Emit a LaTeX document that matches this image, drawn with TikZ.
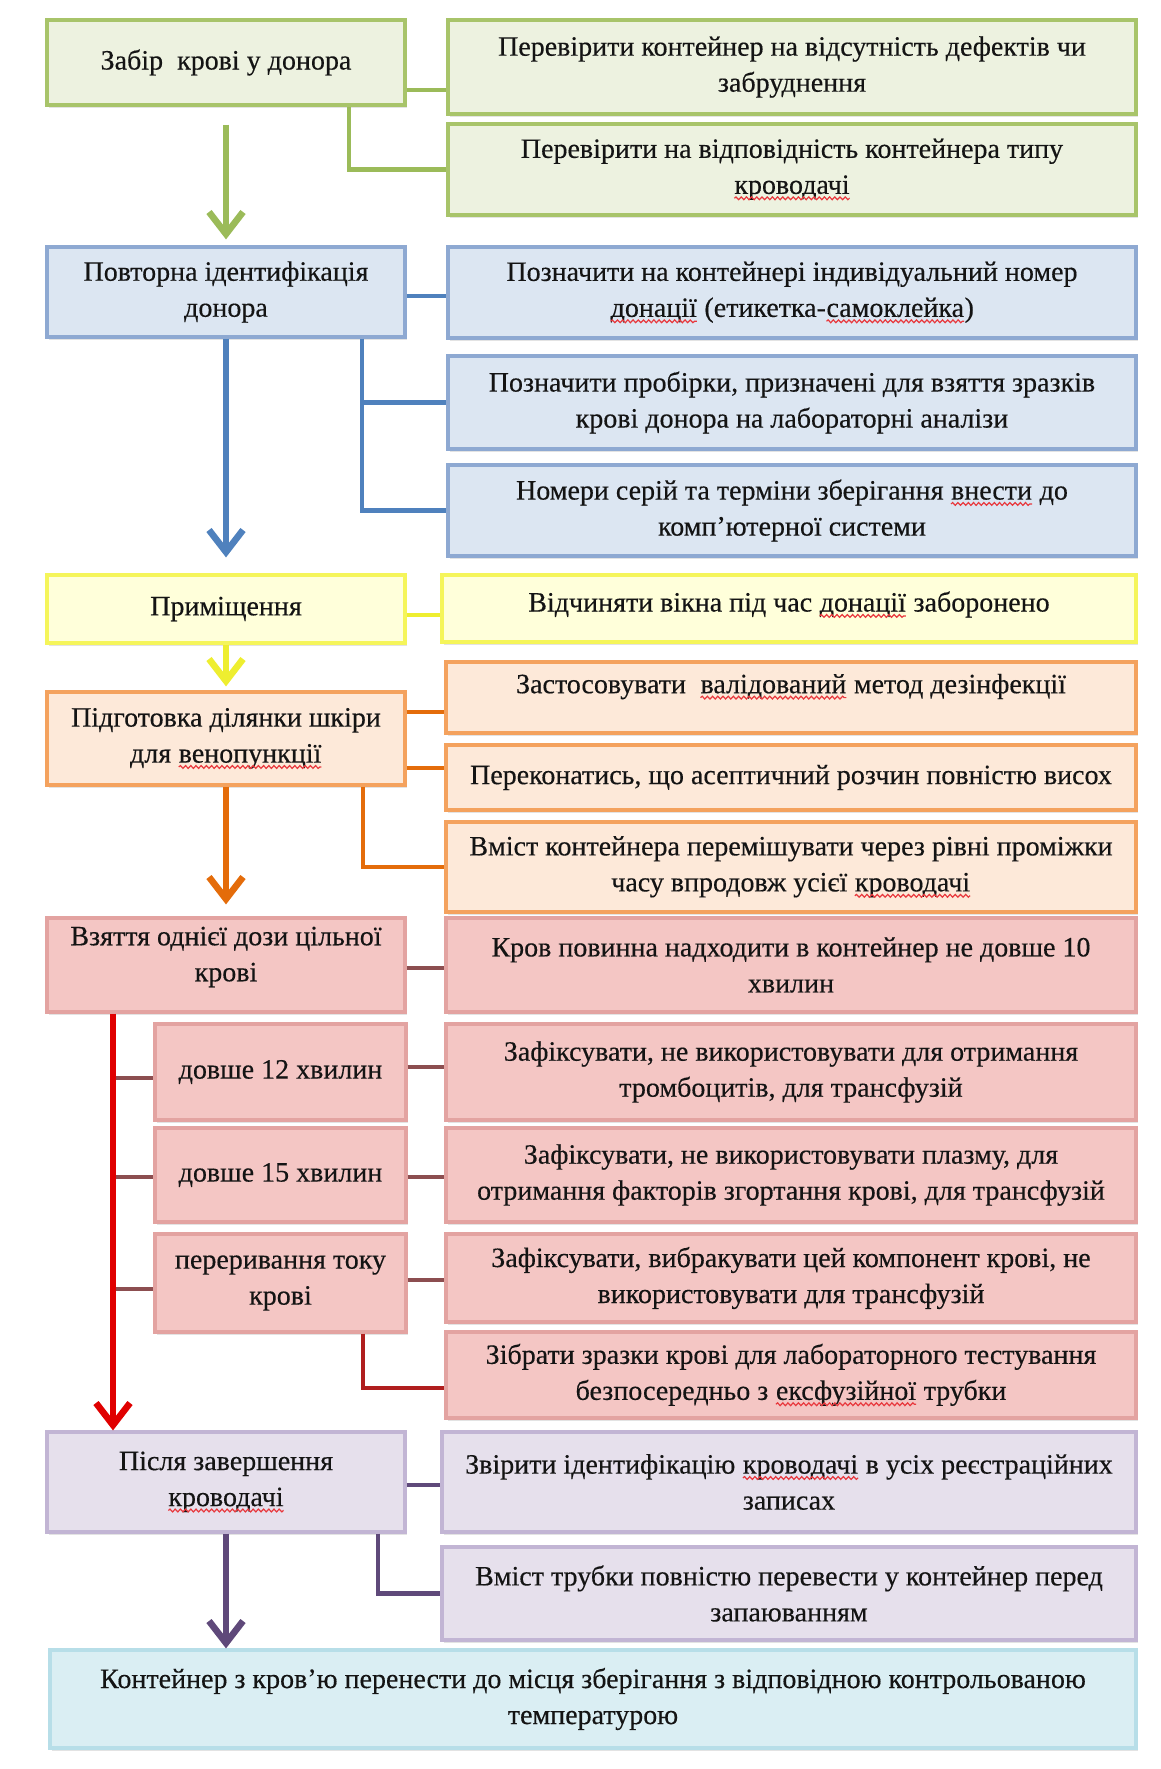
\documentclass[tikz,border=0pt]{standalone}
\usepackage{fontspec}
\setmainfont{Liberation Serif}[FakeBold=0.35]
\usetikzlibrary{arrows.meta,shadows,calc,decorations.pathmorphing}
\definecolor{gfill}{HTML}{EDF2E0}\definecolor{gdraw}{HTML}{A8C46A}\definecolor{gline}{HTML}{9BBB59}
\definecolor{bfill}{HTML}{DCE6F2}\definecolor{bdraw}{HTML}{8EA9D2}\definecolor{bline}{HTML}{4F81BD}
\definecolor{yfill}{HTML}{FFFFDA}\definecolor{ydraw}{HTML}{F5F55A}\definecolor{yline}{HTML}{EEEE30}
\definecolor{ofill}{HTML}{FDE9D9}\definecolor{odraw}{HTML}{F4A25E}\definecolor{oline}{HTML}{E46C0A}
\definecolor{rfill}{HTML}{F4C6C4}\definecolor{rdraw}{HTML}{E3A3A1}\definecolor{rline}{HTML}{8C4E50}\definecolor{rarrow}{HTML}{E00000}\definecolor{rdark}{HTML}{B01E1E}
\definecolor{pfill}{HTML}{E6E0EC}\definecolor{pdraw}{HTML}{C2B5D4}\definecolor{pline}{HTML}{5F497A}
\definecolor{cfill}{HTML}{DAEEF3}\definecolor{cdraw}{HTML}{B7DEE8}
\definecolor{spell}{HTML}{E8383D}
\newcommand\rw[1]{\tikz[baseline=(wd.base)]{\node[inner sep=0pt, outer sep=0pt, minimum width=0pt, minimum height=0pt, draw=none, fill=none] (wd) {#1};
  \draw[spell, line width=0.6pt, decorate, decoration={snake, amplitude=0.7pt, segment length=2.6pt}] ([yshift=-2.2pt]wd.base west) -- ([yshift=-2.2pt]wd.base east);}}
\tikzset{
  base/.style={draw, line width=1.6pt, align=center, inner sep=2pt,
    font=\fontsize{14}{18}\selectfont, text=black!92,
    drop shadow={opacity=0.22, shadow xshift=1pt, shadow yshift=-1.3pt}},
  gbox/.style={base, fill=gfill, draw=gdraw},
  bbox/.style={base, fill=bfill, draw=bdraw},
  ybox/.style={base, fill=yfill, draw=ydraw},
  obox/.style={base, fill=ofill, draw=odraw},
  rbox/.style={base, fill=rfill, draw=rdraw},
  pbox/.style={base, fill=pfill, draw=pdraw},
  cbox/.style={base, fill=cfill, draw=cdraw},
  conn/.style={line width=2.2pt},
  flow/.style={line width=3.3pt, -{Straight Barb[length=11pt,width=17pt,line width=3.3pt]}},
}
\newcommand\bx[7]{\node[#6, minimum width={(#4-#2)*0.5pt}, minimum height={(#5-#3)*0.5pt}] (#1) at ({(#2+#4)/2},{(#3+#5)/2}) {#7};}
\begin{document}
\begin{tikzpicture}[x=0.5pt, y=-0.5pt]
\fill[white] (0,0) rectangle (1161,1769);
\useasboundingbox (0,0) rectangle (1161,1769);
% row 1
\bx{l1}{47}{20}{405}{105}{gbox}{Забір~ крові у донора}
\bx{r1a}{448}{20}{1136}{114}{gbox}{Перевірити контейнер на відсутність дефектів чи\\забруднення}
\bx{r1b}{448}{124}{1136}{215}{gbox}{Перевірити на відповідність контейнера типу\\\rw{кроводачі}}
% row 2
\bx{l2}{47}{247}{405}{337}{bbox}{Повторна ідентифікація\\донора}
\bx{r2a}{448}{247}{1136}{338}{bbox}{Позначити на контейнері індивідуальний номер\\\rw{донації} (етикетка-\rw{самоклейка})}
\bx{r2b}{448}{356}{1136}{449}{bbox}{Позначити пробірки, призначені для взяття зразків\\крові донора на лабораторні аналізи}
\bx{r2c}{448}{465}{1136}{556}{bbox}{Номери серій та терміни зберігання \rw{внести} до\\комп’ютерної системи}
% row 3
\bx{l3}{47}{575}{405}{643}{ybox}{Приміщення}
\bx{r3a}{442}{575}{1136}{642}{ybox}{Відчиняти вікна під час \rw{донації} заборонено\\[-11pt]\mbox{}}
% row 4
\bx{l4}{47}{692}{405}{785}{obox}{Підготовка ділянки шкіри\\для \rw{венопункції}}
\bx{r4a}{446}{662}{1136}{733}{obox}{Застосовувати~ \rw{валідований} метод дезінфекції\\[-4pt]\mbox{}}
\bx{r4b}{446}{745}{1136}{810}{obox}{Переконатись, що асептичний розчин повністю висох}
\bx{r4c}{446}{822}{1136}{912}{obox}{Вміст контейнера перемішувати через рівні проміжки\\часу впродовж усієї \rw{кроводачі}}
% row 5
\bx{l5}{47}{918}{405}{1012}{rbox}{Взяття однієї дози цільної\\крові\\[-7pt]\mbox{}}
\bx{r5a}{446}{918}{1136}{1012}{rbox}{Кров повинна надходити в контейнер не довше 10\\хвилин}
\bx{s1}{155}{1024}{406}{1120}{rbox}{довше 12 хвилин}
\bx{r5b}{446}{1024}{1136}{1120}{rbox}{Зафіксувати, не використовувати для отримання\\тромбоцитів, для трансфузій}
\bx{s2}{155}{1128}{406}{1222}{rbox}{довше 15 хвилин}
\bx{r5c}{446}{1128}{1136}{1222}{rbox}{Зафіксувати, не використовувати плазму, для\\отримання факторів згортання крові, для трансфузій}
\bx{s3}{155}{1234}{406}{1332}{rbox}{переривання току\\крові}
\bx{r5d}{446}{1234}{1136}{1322}{rbox}{Зафіксувати, вибракувати цей компонент крові, не\\використовувати для трансфузій}
\bx{r5e}{446}{1332}{1136}{1418}{rbox}{Зібрати зразки крові для лабораторного тестування\\безпосередньо з \rw{ексфузійної} трубки}
% row 6
\bx{l6}{47}{1432}{405}{1532}{pbox}{Після завершення\\\rw{кроводачі}}
\bx{r6a}{442}{1432}{1136}{1532}{pbox}{Звірити ідентифікацію \rw{кроводачі} в усіх реєстраційних\\записах}
\bx{r6b}{442}{1547}{1136}{1640}{pbox}{Вміст трубки повністю перевести у контейнер перед\\запаюванням}
% final
\bx{fin}{50}{1650}{1136}{1748}{cbox}{Контейнер з кров’ю перенести до місця зберігання з відповідною контрольованою\\температурою}
% connectors row 1
\draw[conn, gline] (l1.east |- 0,90) -- (r1a.west |- 0,90);
\draw[conn, gline] (l1.south -| 349,0) |- (r1b.west);
\draw[flow, gline, shorten <=9pt, shorten >=3pt] (l1.south) -- (l2.north);
% row 2
\draw[conn, bline] (l2.east |- 0,296) -- (r2a.west |- 0,296);
\draw[conn, bline] (l2.south -| 362,0) |- (r2b.west);
\draw[conn, bline] (l2.south -| 362,0) |- (r2c.west);
\draw[flow, bline, shorten >=8pt] (l2.south) -- (l3.north);
% row 3
\draw[conn, yline] (l3.east |- 0,615) -- (r3a.west |- 0,615);
\draw[flow, yline, shorten >=2pt] (l3.south) -- (l4.north);
% row 4
\draw[conn, oline] (l4.east |- 0,712) -- (r4a.west |- 0,712);
\draw[conn, oline] (l4.east |- 0,768) -- (r4b.west |- 0,768);
\draw[conn, oline] (l4.south -| 363,0) |- (r4c.west);
\draw[flow, oline, shorten >=6pt] (l4.south) -- (l5.north);
% row 5
\draw[conn, rline] (l5.east |- 0,968) -- (r5a.west |- 0,968);
\draw[conn, rline] (s1.east |- 0,1067) -- (r5b.west |- 0,1067);
\draw[conn, rline] (s2.east |- 0,1177) -- (r5c.west |- 0,1177);
\draw[conn, rline] (s3.east |- 0,1280) -- (r5d.west |- 0,1280);
\draw[conn, rdark] (s3.south -| 363,0) |- (r5e.west |- 0,1388);
\draw[conn, rline] (113,1078) -- (s1.west |- 0,1078);
\draw[conn, rline] (113,1177) -- (s2.west |- 0,1177);
\draw[conn, rline] (113,1289) -- (s3.west |- 0,1289);
\draw[flow, rarrow] (l5.south -| 113,0) -- (l6.north -| 113,0);
% row 6
\draw[conn, pline] (l6.east |- 0,1485) -- (r6a.west |- 0,1485);
\draw[conn, pline] (l6.south -| 378,0) |- (r6b.west);
\draw[flow, pline] (l6.south) -- (fin.north -| l6.south);
\end{tikzpicture}
\end{document}
